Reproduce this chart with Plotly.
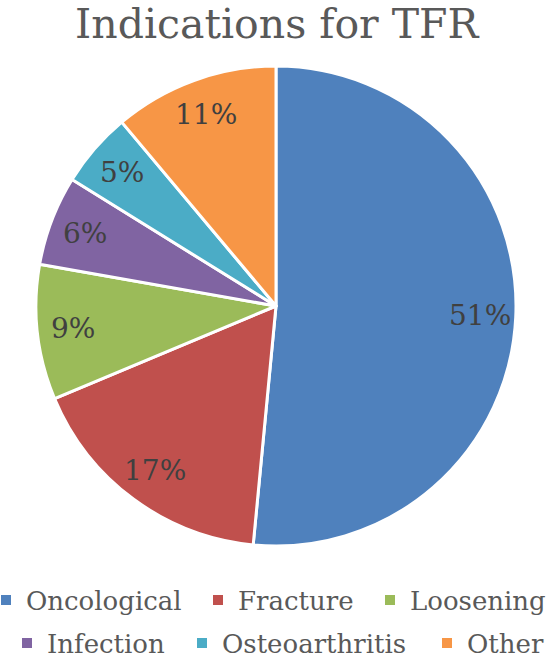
import math
import plotly.graph_objects as go

categories = ["Oncological", "Fracture", "Loosening", "Infection", "Osteoarthritis", "Other"]
values = [51, 17, 9, 6, 5, 11]
colors = ["#4F81BD", "#C0504D", "#9BBB59", "#8064A2", "#4BACC6", "#F79646"]

W, H = 548, 658
cx, cy, R = 276, 306, 240
FONT = "DejaVu Serif"

fig = go.Figure()
fig.add_trace(go.Pie(
    labels=categories, values=values, sort=False, direction="clockwise", rotation=0,
    marker=dict(colors=colors, line=dict(color="white", width=3)),
    textinfo="none", showlegend=False, hoverinfo="label+value",
    domain=dict(x=[(cx - R) / W, (cx + R) / W], y=[(H - cy - R) / H, (H - cy + R) / H]),
))

# data labels placed along each slice's mid-angle
total = sum(values)
cum = 0
annotations = []
for v in values:
    mid = (cum + v / 2) / total * 2 * math.pi
    cum += v
    r = 0.85 * R
    px = cx + r * math.sin(mid)
    py = cy - r * math.cos(mid)
    annotations.append(dict(
        x=px / W, y=1 - py / H, xref="paper", yref="paper", showarrow=False,
        text=f"{v}%", xanchor="center", yanchor="middle",
        font=dict(family=FONT, size=28, color="#404040"),
    ))

# legend layout: one legend box per entry (marker-center x, row-center y in px)
legend_pos = [(6, 600), (218, 600), (390, 600), (27, 643), (202, 643), (447, 643)]
layout_legends = {}
for i, (c, col) in enumerate(zip(categories, colors)):
    lname = "legend" if i == 0 else f"legend{i + 1}"
    fig.add_trace(go.Scatter(
        x=[None], y=[None], mode="markers", name=c,
        marker=dict(symbol="square", size=10, color=col, line=dict(width=0)),
        legend=lname,
    ))
    mx, my = legend_pos[i]
    layout_legends[lname] = dict(
        orientation="h", xanchor="left", yanchor="middle", xref="paper", yref="paper",
        x=(mx - 20) / W, y=1 - my / H,
        font=dict(family=FONT, size=26, color="#595959"),
        bgcolor="rgba(0,0,0,0)", itemwidth=30, borderwidth=0,
    )

fig.update_layout(
    width=W, height=H, margin=dict(l=0, r=0, t=0, b=0, autoexpand=False),
    paper_bgcolor="white", plot_bgcolor="white",
    title=dict(text="Indications for TFR", x=0.505, xanchor="center", y=1 - 24 / H, yanchor="middle",
               font=dict(family=FONT, size=41, color="#595959")),
    xaxis=dict(visible=False), yaxis=dict(visible=False),
    annotations=annotations,
    **layout_legends,
)
fig.write_html("out.html")
